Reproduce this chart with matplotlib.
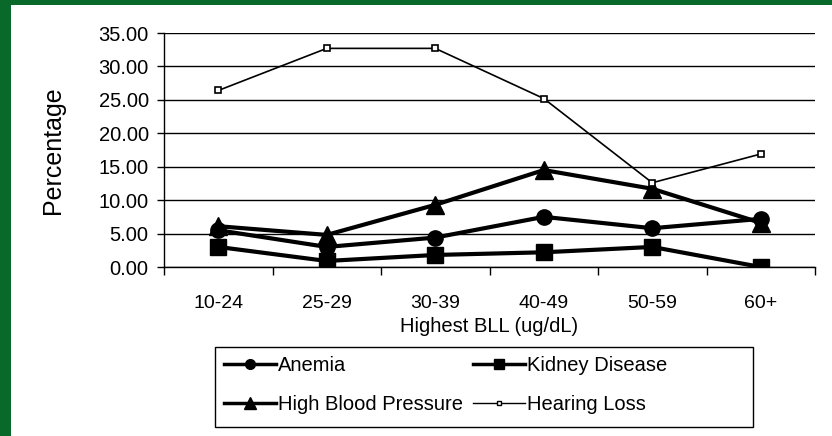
"""Lead exposure health outcomes by highest BLL, recreated as a PNG."""

import matplotlib.pyplot as plt
from matplotlib.lines import Line2D
from matplotlib.patches import Rectangle

plt.rcParams["font.family"] = ["Liberation Sans", "DejaVu Sans"]

categories = ["10-24", "25-29", "30-39", "40-49", "50-59", "60+"]
anemia = [5.5, 3.0, 4.4, 7.5, 5.8, 7.2]
kidney = [3.0, 0.9, 1.8, 2.2, 3.0, 0.0]
blood_pressure = [6.1, 4.8, 9.3, 14.5, 11.7, 6.6]
hearing = [26.4, 32.7, 32.7, 25.2, 12.6, 16.9]
y_ticks = [0, 5, 10, 15, 20, 25, 30, 35]


def main() -> None:
    fig = plt.figure(figsize=(8.32, 4.36), dpi=100)
    fig.patch.set_facecolor("#08692a")
    fig.add_artist(Rectangle((11 / 832, 0), 821 / 832, 431 / 436, transform=fig.transFigure,
                             facecolor="white", edgecolor="none", zorder=0))

    ax = fig.add_axes([164 / 832, 1 - 267 / 436, 651 / 832, 234 / 436])
    ax.set_facecolor("white")
    x = list(range(len(categories)))

    ax.plot(x, anemia, color="black", lw=3, marker="o", ms=11, label="Anemia", zorder=3)
    ax.plot(x, kidney, color="black", lw=3, marker="s", ms=11, label="Kidney Disease", zorder=3)
    ax.plot(x, blood_pressure, color="black", lw=3, marker="^", ms=13, label="High Blood Pressure", zorder=3)
    ax.plot(x, hearing, color="black", lw=1.2, marker="s", ms=4, mfc="white", mew=1.2,
            label="Hearing Loss", zorder=3)

    ax.set_xlim(-0.5, len(categories) - 0.5)
    ax.set_ylim(0, 35)
    ax.set_yticks(y_ticks)
    ax.set_yticklabels([f"{v:.2f}" for v in y_ticks], fontsize=14.5)
    ax.set_xticks(x)
    ax.set_xticklabels(categories, fontsize=14)
    ax.set_xticks([i - 0.5 for i in range(len(categories) + 1)], minor=True)
    ax.tick_params(axis="x", which="major", length=0, pad=20)
    ax.tick_params(axis="x", which="minor", length=6, width=1, direction="out")
    ax.tick_params(axis="y", length=5, width=1, pad=6)
    ax.grid(axis="y", color="black", lw=1)
    ax.set_axisbelow(True)
    for side in ("top", "right"):
        ax.spines[side].set_visible(False)
    ax.spines["left"].set_linewidth(1)
    ax.spines["bottom"].set_linewidth(1)

    ax.set_ylabel("Percentage", fontsize=18, labelpad=24)
    ax.set_xlabel("Highest BLL (ug/dL)", fontsize=14.5, labelpad=4)

    # legend box drawn by hand, Excel style: frame wider than its content
    fig.add_artist(Rectangle((215 / 832, 1 - 427 / 436), 538 / 832, 80 / 436,
                             transform=fig.transFigure, facecolor="white",
                             edgecolor="black", lw=1, zorder=1))
    handles = [
        Line2D([], [], color="black", lw=2.5, marker="o", ms=7),
        Line2D([], [], color="black", lw=2.5, marker="^", ms=8),
        Line2D([], [], color="black", lw=2.5, marker="s", ms=7),
        Line2D([], [], color="black", lw=1, marker="s", ms=3.5, mfc="white"),
    ]
    labels = ["Anemia", "High Blood Pressure", "Kidney Disease", "Hearing Loss"]
    fig.legend(handles, labels, ncol=2, fontsize=14.5, loc="upper left",
               bbox_to_anchor=(215 / 832, 1 - 347 / 436), frameon=False,
               handlelength=2.6, handletextpad=0.1, borderpad=0.45, borderaxespad=0,
               columnspacing=0.45, labelspacing=1.0)

    fig.savefig("out.png", dpi=100, facecolor=fig.get_facecolor())
    plt.close(fig)


if __name__ == "__main__":
    main()
